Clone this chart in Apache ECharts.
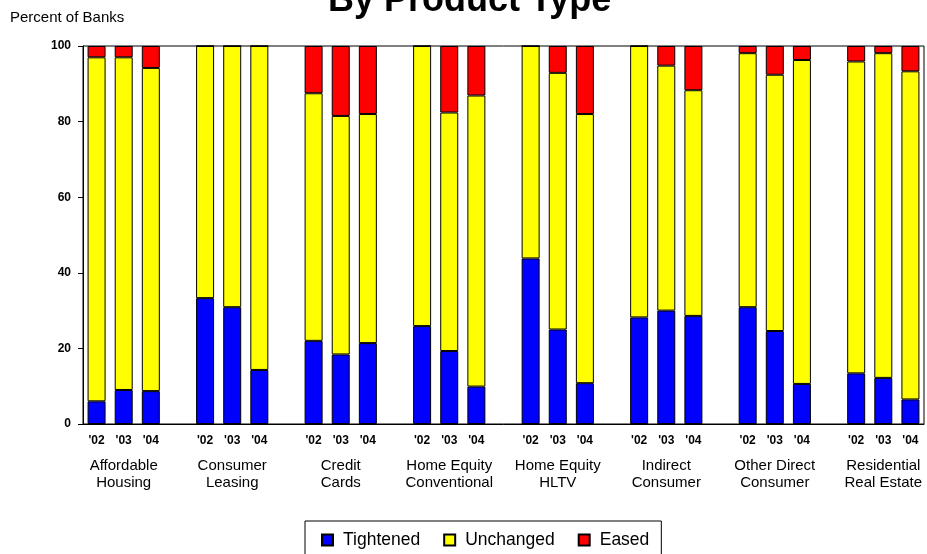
<!DOCTYPE html>
<html>
<head>
<meta charset="utf-8">
<script src="https://cdn.jsdelivr.net/npm/echarts@6/dist/echarts.min.js"></script>
<style>
html,body{margin:0;padding:0;background:#fff;}
#chart{width:927px;height:554px;}
</style>
</head>
<body>
<div id="chart"></div>
<script>
const titleText = 'By Product Type';
const yAxisName = 'Percent of Banks';
const years = ["'02", "'03", "'04"];
const groups = ['Affordable\nHousing', 'Consumer\nLeasing', 'Credit\nCards', 'Home Equity\nConventional',
  'Home Equity\nHLTV', 'Indirect\nConsumer', 'Other Direct\nConsumer', 'Residential\nReal Estate'];
const seriesNames = ['Tightened', 'Unchanged', 'Eased'];
const tightened = [[6, 9, 8.7], [33.3, 30.9, 14.3], [22, 18.4, 21.4], [25.9, 19.3, 9.9],
  [43.8, 25, 10.8], [28.2, 30, 28.6], [30.9, 24.6, 10.6], [13.4, 12.2, 6.5]];
const unchanged = [[91, 88, 85.5], [66.7, 69.1, 85.7], [65.5, 63.1, 60.6], [74.1, 63.1, 77],
  [56.2, 67.9, 71.2], [71.8, 64.8, 59.7], [67.2, 67.8, 85.7], [82.5, 85.9, 86.8]];
const eased = [[3, 3, 5.8], [0, 0, 0], [12.5, 18.5, 18], [0, 17.6, 13.1],
  [0, 7.1, 18], [0, 5.2, 11.7], [1.9, 7.6, 3.7], [4.1, 1.9, 6.7]];
const yTicks = [0, 20, 40, 60, 80, 100];

// Build slotted categories: 3 years per group with a blank slot between groups
const categories = [];
const groupLabelAt = {};
groups.forEach((g, gi) => {
  years.forEach((y, yi) => {
    if (yi === 1) groupLabelAt[categories.length] = g;
    categories.push(y);
  });
  if (gi < groups.length - 1) categories.push('');
});
function flatten(arr) {
  const out = [];
  arr.forEach((grp, gi) => {
    grp.forEach(v => out.push(v));
    if (gi < arr.length - 1) out.push(null);
  });
  return out;
}
const colors = ['#0000FF', '#FFFF00', '#FF0000'];
const values = [tightened, unchanged, eased];
const FONT = 'Liberation Sans, Arial, sans-serif';

const chart = echarts.init(document.getElementById('chart'), null, {renderer: 'canvas'});
chart.setOption({
  animation: false,
  backgroundColor: '#fff',
  title: [
    {text: titleText, left: 328, top: -17, padding: 0,
      textStyle: {fontFamily: FONT, fontSize: 36, fontWeight: 'bold', color: '#000'}},
    {text: yAxisName, left: 10, top: 10, padding: 0,
      textStyle: {fontFamily: FONT, fontSize: 15, fontWeight: 'normal', color: '#000'}}
  ],
  legend: {
    left: 305, top: 521,
    padding: [10, 12, 20, 16],
    itemGap: 23, itemWidth: 11, itemHeight: 11,
    borderColor: '#000', borderWidth: 1,
    icon: 'rect',
    textStyle: {fontFamily: FONT, fontSize: 17.5, color: '#000', padding: [0, 0, 0, 5]},
    data: seriesNames
  },
  grid: {left: 83, right: 3, top: 46, bottom: 130, show: true, borderColor: '#000', borderWidth: 1, containLabel: false},
  xAxis: [
    {type: 'category', data: categories, gridIndex: 0, position: 'bottom',
      axisLine: {lineStyle: {color: '#000', width: 1}}, axisTick: {show: false},
      axisLabel: {interval: 0, margin: 11, fontFamily: FONT, fontSize: 12, fontWeight: 'bold', color: '#000'}},
    {type: 'category', data: categories, gridIndex: 0, position: 'bottom',
      axisLine: {show: false}, axisTick: {show: false},
      axisLabel: {interval: 0, margin: 33, fontFamily: FONT, fontSize: 15, lineHeight: 17, color: '#000',
        formatter: (v, i) => groupLabelAt[i] || ''}}
  ],
  yAxis: {type: 'value', min: 0, max: 100, interval: 20,
    axisLine: {show: true, lineStyle: {color: '#000', width: 1}},
    axisTick: {show: true, length: 5, lineStyle: {color: '#000'}},
    splitLine: {show: false},
    axisLabel: {margin: 12, fontFamily: FONT, fontSize: 12, fontWeight: 'bold', color: '#000',
      formatter: v => yTicks.includes(v) ? String(v) : ''}},
  series: seriesNames.map((name, si) => ({
    name, type: 'bar', stack: 'total', barWidth: 18,
    itemStyle: {color: colors[si], borderColor: '#000', borderWidth: 1},
    data: flatten(values[si])
  }))
});
</script>
</body>
</html>
